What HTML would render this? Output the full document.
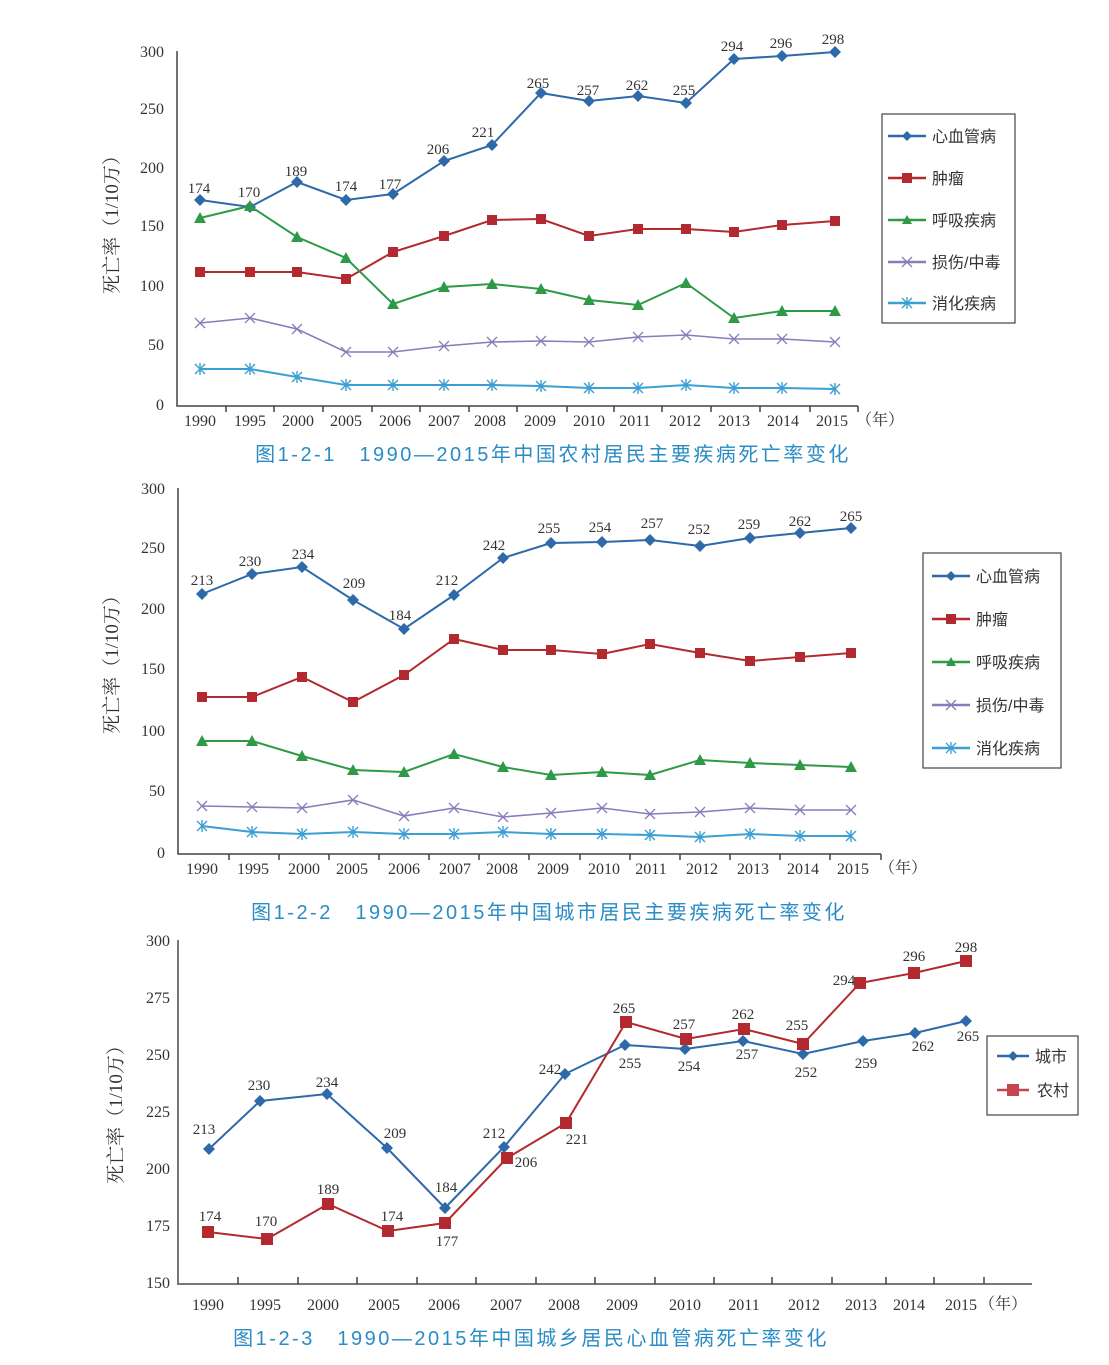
<!DOCTYPE html>
<html><head><meta charset="utf-8"><style>
html,body{margin:0;padding:0;background:#fff}
svg{display:block}
.n{font-family:"Liberation Serif","Noto Serif CJK SC",serif;font-size:15px;fill:#333;text-anchor:middle}
.t{font-family:"Liberation Serif","Noto Serif CJK SC",serif;font-size:16px;fill:#333;text-anchor:middle}
.y{font-family:"Liberation Serif","Noto Serif CJK SC",serif;font-size:16px;fill:#333;text-anchor:end}
.lg{font-family:"Liberation Sans","Noto Sans CJK SC",sans-serif;font-size:16px;fill:#333}
.yl{font-family:"Liberation Serif","Noto Serif CJK SC",serif;font-size:19px;fill:#333;text-anchor:middle}
.ti{font-family:"Liberation Sans","Noto Sans CJK SC",sans-serif;font-size:20px;fill:#2a8cc4;text-anchor:middle;letter-spacing:2.5px}
.ax{stroke:#444;stroke-width:1.5;fill:none}
</style></head><body>
<svg width="1109" height="1365" viewBox="0 0 1109 1365" xmlns="http://www.w3.org/2000/svg">
<defs>
<marker id="dB" markerUnits="userSpaceOnUse" markerWidth="14" markerHeight="14" refX="7" refY="7"><path d="M7 1L13 7L7 13L1 7Z" fill="#2e69aa"/></marker>
<marker id="sR" markerUnits="userSpaceOnUse" markerWidth="14" markerHeight="14" refX="7" refY="7"><rect x="2" y="2" width="10" height="10" fill="#b22a2f"/></marker>
<marker id="sR3" markerUnits="userSpaceOnUse" markerWidth="16" markerHeight="16" refX="8" refY="8"><rect x="2" y="2" width="12" height="12" fill="#b22a2f"/></marker>
<marker id="tG" markerUnits="userSpaceOnUse" markerWidth="14" markerHeight="14" refX="7" refY="7"><path d="M7 1L13 12L1 12Z" fill="#2e9a48"/></marker>
<marker id="xP" markerUnits="userSpaceOnUse" markerWidth="14" markerHeight="14" refX="7" refY="7"><path d="M2 2L12 12M12 2L2 12" stroke="#8a7bb9" stroke-width="1.3"/></marker>
<marker id="aC" markerUnits="userSpaceOnUse" markerWidth="14" markerHeight="14" refX="7" refY="7"><path d="M2 2L12 12M12 2L2 12M7 1V13" stroke="#3a9fd2" stroke-width="1.4"/></marker>
</defs>

<!-- ============ CHART 1 ============ -->
<g class="y">
<text x="164" y="57">300</text><text x="164" y="114">250</text><text x="164" y="173">200</text><text x="164" y="231">150</text><text x="164" y="291">100</text><text x="164" y="350">50</text><text x="164" y="410">0</text>
</g>
<text class="yl" transform="translate(118,220) rotate(-90)">死亡率（1/10万）</text>
<path class="ax" d="M177 51V406H858"/>
<path class="ax" d="M226 406v6M274 406v6M323 406v6M372 406v6M420 406v6M469 406v6M517 406v6M567 406v6M614 406v6M662 406v6M711 406v6M760 406v6M810 406v6M858 406v6"/>
<g class="t">
<text x="200" y="426">1990</text><text x="250" y="426">1995</text><text x="298" y="426">2000</text><text x="346" y="426">2005</text><text x="395" y="426">2006</text><text x="444" y="426">2007</text><text x="490" y="426">2008</text><text x="540" y="426">2009</text><text x="589" y="426">2010</text><text x="635" y="426">2011</text><text x="685" y="426">2012</text><text x="734" y="426">2013</text><text x="783" y="426">2014</text><text x="832" y="426">2015</text><text x="880" y="425">（年）</text>
</g>
<g fill="none" stroke-width="2">
<polyline stroke="#2e69aa" marker-start="url(#dB)" marker-mid="url(#dB)" marker-end="url(#dB)" points="200,200 250,207 297,182 346,200 393,194 444,161 492,145 541,93 589,101 638,96 686,103 734,59 782,56 835,52"/>
<polyline stroke="#b22a2f" marker-start="url(#sR)" marker-mid="url(#sR)" marker-end="url(#sR)" points="200,272 250,272 297,272 346,279 393,252 444,236 492,220 541,219 589,236 638,229 686,229 734,232 782,225 835,221"/>
<polyline stroke="#2e9a48" marker-start="url(#tG)" marker-mid="url(#tG)" marker-end="url(#tG)" points="200,218 250,206 297,237 346,258 393,304 444,287 492,284 541,289 589,300 638,305 686,283 734,318 782,311 835,311"/>
<polyline stroke="#8a7bb9" stroke-width="1.6" marker-start="url(#xP)" marker-mid="url(#xP)" marker-end="url(#xP)" points="200,323 250,318 297,329 346,352 393,352 444,346 492,342 541,341 589,342 638,337 686,335 734,339 782,339 835,342"/>
<polyline stroke="#3a9fd2" marker-start="url(#aC)" marker-mid="url(#aC)" marker-end="url(#aC)" points="200,369 250,369 297,377 346,385 393,385 444,385 492,385 541,386 589,388 638,388 686,385 734,388 782,388 835,389"/>
</g>
<g class="n">
<text x="199" y="193">174</text><text x="249" y="197">170</text><text x="296" y="176">189</text><text x="346" y="191">174</text><text x="390" y="189">177</text><text x="438" y="154">206</text><text x="483" y="137">221</text><text x="538" y="88">265</text><text x="588" y="95">257</text><text x="637" y="90">262</text><text x="684" y="95">255</text><text x="732" y="51">294</text><text x="781" y="48">296</text><text x="833" y="44">298</text>
</g>
<rect x="882" y="114" width="133" height="209" fill="#fff" stroke="#444" stroke-width="1.2"/>
<g stroke-width="2.5">
<path d="M888 136H926" stroke="#2e69aa"/><path d="M907 131l5 5-5 5-5-5z" fill="#2e69aa"/>
<path d="M888 178H926" stroke="#b22a2f"/><rect x="902" y="173" width="10" height="10" fill="#b22a2f"/>
<path d="M888 220H926" stroke="#2e9a48"/><path d="M907 215l5 9h-10z" fill="#2e9a48"/>
<path d="M888 262H926" stroke="#8a7bb9"/><path d="M902 257l10 10M912 257l-10 10" stroke="#8a7bb9" stroke-width="1.3"/>
<path d="M888 303H926" stroke="#3a9fd2"/><path d="M902 298l10 10M912 298l-10 10M907 297v12" stroke="#3a9fd2" stroke-width="1.3"/>
</g>
<g class="lg"><text x="932" y="142">心血管病</text><text x="932" y="184">肿瘤</text><text x="932" y="226">呼吸疾病</text><text x="932" y="268">损伤/中毒</text><text x="932" y="309">消化疾病</text></g>
<text class="ti" x="553" y="461">图1-2-1　1990—2015年中国农村居民主要疾病死亡率变化</text>

<!-- ============ CHART 2 ============ -->
<g class="y">
<text x="165" y="494">300</text><text x="165" y="553">250</text><text x="165" y="614">200</text><text x="165" y="674">150</text><text x="165" y="736">100</text><text x="165" y="796">50</text><text x="165" y="858">0</text>
</g>
<text class="yl" transform="translate(118,660) rotate(-90)">死亡率（1/10万）</text>
<path class="ax" d="M178 488V854H881"/>
<path class="ax" d="M229 854v6M279 854v6M329 854v6M379 854v6M429 854v6M479 854v6M529 854v6M580 854v6M630 854v6M680 854v6M730 854v6M780 854v6M830 854v6M881 854v6"/>
<g class="t">
<text x="202" y="874">1990</text><text x="253" y="874">1995</text><text x="304" y="874">2000</text><text x="352" y="874">2005</text><text x="404" y="874">2006</text><text x="455" y="874">2007</text><text x="502" y="874">2008</text><text x="553" y="874">2009</text><text x="604" y="874">2010</text><text x="651" y="874">2011</text><text x="702" y="874">2012</text><text x="753" y="874">2013</text><text x="803" y="874">2014</text><text x="853" y="874">2015</text><text x="903" y="873">（年）</text>
</g>
<g fill="none" stroke-width="2">
<polyline stroke="#2e69aa" marker-start="url(#dB)" marker-mid="url(#dB)" marker-end="url(#dB)" points="202,594 252,574 302,567 353,600 404,629 454,595 503,558 551,543 602,542 650,540 700,546 750,538 800,533 851,528"/>
<polyline stroke="#b22a2f" marker-start="url(#sR)" marker-mid="url(#sR)" marker-end="url(#sR)" points="202,697 252,697 302,677 353,702 404,675 454,639 503,650 551,650 602,654 650,644 700,653 750,661 800,657 851,653"/>
<polyline stroke="#2e9a48" marker-start="url(#tG)" marker-mid="url(#tG)" marker-end="url(#tG)" points="202,741 252,741 302,756 353,770 404,772 454,754 503,767 551,775 602,772 650,775 700,760 750,763 800,765 851,767"/>
<polyline stroke="#8a7bb9" stroke-width="1.6" marker-start="url(#xP)" marker-mid="url(#xP)" marker-end="url(#xP)" points="202,806 252,807 302,808 353,800 404,816 454,808 503,817 551,813 602,808 650,814 700,812 750,808 800,810 851,810"/>
<polyline stroke="#3a9fd2" marker-start="url(#aC)" marker-mid="url(#aC)" marker-end="url(#aC)" points="202,826 252,832 302,834 353,832 404,834 454,834 503,832 551,834 602,834 650,835 700,837 750,834 800,836 851,836"/>
</g>
<g class="n">
<text x="202" y="585">213</text><text x="250" y="566">230</text><text x="303" y="559">234</text><text x="354" y="588">209</text><text x="400" y="620">184</text><text x="447" y="585">212</text><text x="494" y="550">242</text><text x="549" y="533">255</text><text x="600" y="532">254</text><text x="652" y="528">257</text><text x="699" y="534">252</text><text x="749" y="529">259</text><text x="800" y="526">262</text><text x="851" y="521">265</text>
</g>
<rect x="923" y="553" width="138" height="215" fill="#fff" stroke="#444" stroke-width="1.2"/>
<g stroke-width="2.5">
<path d="M932 576H970" stroke="#2e69aa"/><path d="M951 571l5 5-5 5-5-5z" fill="#2e69aa"/>
<path d="M932 619H970" stroke="#b22a2f"/><rect x="946" y="614" width="10" height="10" fill="#b22a2f"/>
<path d="M932 662H970" stroke="#2e9a48"/><path d="M951 657l5 9h-10z" fill="#2e9a48"/>
<path d="M932 705H970" stroke="#8a7bb9"/><path d="M946 700l10 10M956 700l-10 10" stroke="#8a7bb9" stroke-width="1.3"/>
<path d="M932 748H970" stroke="#3a9fd2"/><path d="M946 743l10 10M956 743l-10 10M951 742v12" stroke="#3a9fd2" stroke-width="1.3"/>
</g>
<g class="lg"><text x="976" y="582">心血管病</text><text x="976" y="625">肿瘤</text><text x="976" y="668">呼吸疾病</text><text x="976" y="711">损伤/中毒</text><text x="976" y="754">消化疾病</text></g>
<text class="ti" x="549" y="919">图1-2-2　1990—2015年中国城市居民主要疾病死亡率变化</text>

<!-- ============ CHART 3 ============ -->
<g class="y">
<text x="170" y="946">300</text><text x="170" y="1003">275</text><text x="170" y="1060">250</text><text x="170" y="1117">225</text><text x="170" y="1174">200</text><text x="170" y="1231">175</text><text x="170" y="1288">150</text>
</g>
<text class="yl" transform="translate(122,1110) rotate(-90)">死亡率（1/10万）</text>
<path d="M178 940V1284H1032" stroke="#777" stroke-width="2" fill="none"/>
<path d="M238 1284v-7M298 1284v-7M357 1284v-7M417 1284v-7M476 1284v-7M536 1284v-7M595 1284v-7M655 1284v-7M714 1284v-7M772 1284v-7M832 1284v-7M886 1284v-7M934 1284v-7M984 1284v-7" stroke="#444" stroke-width="1.5"/>
<g class="t">
<text x="208" y="1310">1990</text><text x="265" y="1310">1995</text><text x="323" y="1310">2000</text><text x="384" y="1310">2005</text><text x="444" y="1310">2006</text><text x="506" y="1310">2007</text><text x="564" y="1310">2008</text><text x="622" y="1310">2009</text><text x="685" y="1310">2010</text><text x="744" y="1310">2011</text><text x="804" y="1310">2012</text><text x="861" y="1310">2013</text><text x="909" y="1310">2014</text><text x="961" y="1310">2015</text><text x="1003" y="1309">（年）</text>
</g>
<g fill="none" stroke-width="2">
<polyline stroke="#2e69aa" marker-start="url(#dB)" marker-mid="url(#dB)" marker-end="url(#dB)" points="209,1149 260,1101 327,1094 387,1148 445,1208 504,1147 565,1074 625,1045 685,1049 743,1041 803,1054 863,1041 915,1033 966,1021"/>
<polyline stroke="#b22a2f" marker-start="url(#sR3)" marker-mid="url(#sR3)" marker-end="url(#sR3)" points="208,1232 267,1239 328,1204 388,1231 445,1223 507,1158 566,1123 626,1022 686,1039 744,1029 803,1044 860,983 914,973 966,961"/>
</g>
<g class="n">
<text x="204" y="1134">213</text><text x="259" y="1090">230</text><text x="327" y="1087">234</text><text x="395" y="1138">209</text><text x="446" y="1192">184</text><text x="494" y="1138">212</text><text x="550" y="1074">242</text><text x="630" y="1068">255</text><text x="689" y="1071">254</text><text x="747" y="1059">257</text><text x="806" y="1077">252</text><text x="866" y="1068">259</text><text x="923" y="1051">262</text><text x="968" y="1041">265</text>
<text x="210" y="1221">174</text><text x="266" y="1226">170</text><text x="328" y="1194">189</text><text x="392" y="1221">174</text><text x="447" y="1246">177</text><text x="526" y="1167">206</text><text x="577" y="1144">221</text><text x="624" y="1013">265</text><text x="684" y="1029">257</text><text x="743" y="1019">262</text><text x="797" y="1030">255</text><text x="844" y="985">294</text><text x="914" y="961">296</text><text x="966" y="952">298</text>
</g>
<rect x="987" y="1036" width="91" height="79" fill="#fff" stroke="#444" stroke-width="1.2"/>
<g stroke-width="2.5">
<path d="M997 1056H1029" stroke="#2e69aa"/><path d="M1013 1051l5 5-5 5-5-5z" fill="#2e69aa"/>
<path d="M997 1090H1029" stroke="#c4454e"/><rect x="1007" y="1084" width="12" height="12" fill="#c4454e"/>
</g>
<g class="lg"><text x="1035" y="1062">城市</text><text x="1037" y="1096">农村</text></g>
<text class="ti" x="531" y="1345">图1-2-3　1990—2015年中国城乡居民心血管病死亡率变化</text>
</svg>
</body></html>
